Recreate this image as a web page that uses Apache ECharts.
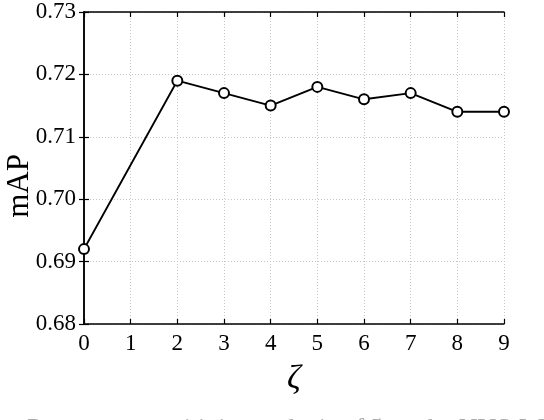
<!DOCTYPE html>
<html><head><meta charset="utf-8">
<script src="https://cdn.jsdelivr.net/npm/echarts@6/dist/echarts.min.js"></script>
<style>html,body{margin:0;padding:0;background:#fff}#c{width:544px;height:420px}</style>
</head><body><div id="c"></div>
<script>
const xValues = [0, 2, 3, 4, 5, 6, 7, 8, 9];
const mapValues = [0.692, 0.719, 0.717, 0.715, 0.718, 0.716, 0.717, 0.714, 0.714];
const xTicks = [0, 1, 2, 3, 4, 5, 6, 7, 8, 9];
const yTicks = [0.68, 0.69, 0.70, 0.71, 0.72, 0.73];
const xName = 'ζ';
const yName = 'mAP';
const caption = 'Parameter sensitivity analysis of ζ on the NUS-WIDE dataset';

const serif = '"Liberation Serif", "DejaVu Serif", serif';
const chart = echarts.init(document.getElementById('c'));
const gridLine = {show: true, lineStyle: {color: '#c8c8c8', type: [1, 2], width: 1}};
chart.setOption({
  animation: false,
  grid: {left: 84, right: 40, top: 12, bottom: 96, containLabel: false, outerBoundsMode: 'none'},
  xAxis: [{
    type: 'value', min: xTicks[0], max: xTicks[xTicks.length - 1], interval: 1,
    position: 'bottom',
    axisLine: {lineStyle: {color: '#000', width: 1.5}},
    axisTick: {inside: true, length: 5, lineStyle: {color: '#000', width: 1.2}},
    axisLabel: {color: '#000', fontFamily: serif, fontSize: 23, margin: 8},
    splitLine: gridLine,
    name: xName, nameLocation: 'middle', nameGap: 38,
    nameTextStyle: {color: '#000', fontFamily: serif, fontSize: 34, fontStyle: 'italic'}
  }, {
    type: 'value', min: xTicks[0], max: xTicks[xTicks.length - 1], interval: 1,
    position: 'top',
    axisLine: {lineStyle: {color: '#000', width: 1.5}},
    axisTick: {inside: true, length: 5, lineStyle: {color: '#000', width: 1.2}},
    axisLabel: {show: false}, splitLine: {show: false}
  }],
  yAxis: [{
    type: 'value', min: yTicks[0], max: yTicks[yTicks.length - 1], interval: 0.01,
    position: 'left',
    axisLine: {lineStyle: {color: '#000', width: 1.5}},
    axisTick: {inside: true, length: 5, lineStyle: {color: '#000', width: 1.2}},
    axisLabel: {color: '#000', fontFamily: serif, fontSize: 23, margin: 8,
      formatter: v => v.toFixed(2)},
    splitLine: gridLine
  }, {
    type: 'value', min: yTicks[0], max: yTicks[yTicks.length - 1], interval: 0.01,
    position: 'right',
    axisLine: {lineStyle: {color: '#000', width: 1.5}},
    axisTick: {inside: true, length: 5, lineStyle: {color: '#000', width: 1.2}},
    axisLabel: {show: false}, splitLine: {show: false}
  }],
  graphic: [{
    type: 'text', x: 20, y: 186, rotation: Math.PI / 2,
    style: {text: yName, font: '31px ' + serif, fill: '#000', align: 'center', verticalAlign: 'middle'}
  }, {
    type: 'text', left: 27, top: 416,
    style: {text: caption, font: '26px ' + serif, fill: '#aaa'}
  }],
  series: [{
    type: 'line',
    data: xValues.map((x, i) => [x, mapValues[i]]),
    symbol: 'circle', symbolSize: 10,
    lineStyle: {color: '#000', width: 2},
    itemStyle: {color: '#fff', borderColor: '#000', borderWidth: 2},
    clip: false
  }]
});
</script></body></html>
